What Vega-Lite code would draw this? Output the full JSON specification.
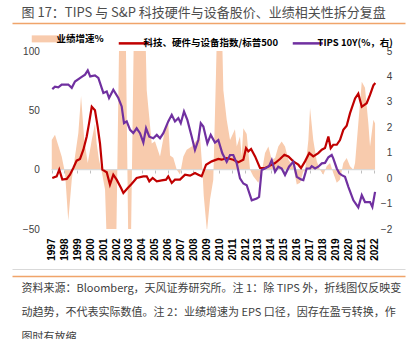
{
  "$schema": "https://vega.github.io/schema/vega-lite/v6.json",
  "width": 393,
  "height": 178,
  "autosize": {"type": "none"},
  "padding": {"left": 12, "top": 51, "right": 10, "bottom": 110},
  "background": "white",
  "config": {
    "view": {"stroke": null},
    "axis": {"grid": false, "labelFont": "Liberation Sans", "titleFont": "Noto Sans CJK SC"}
  },
  "datasets": {
    "eps": [
      {"t": 1997.02, "v": 25}, {"t": 1997.27, "v": 29.4}, {"t": 1997.79, "v": 11}, {"t": 1998.05, "v": -2.8},
      {"t": 1998.30, "v": -43}, {"t": 1998.57, "v": -8.4}, {"t": 1998.82, "v": 11}, {"t": 1999.08, "v": 31},
      {"t": 1999.29, "v": 62}, {"t": 1999.54, "v": 25}, {"t": 1999.81, "v": 5.6}, {"t": 2000.12, "v": 25},
      {"t": 2000.37, "v": 39}, {"t": 2000.50, "v": 22}, {"t": 2000.68, "v": 8.4}, {"t": 2000.89, "v": -1.4},
      {"t": 2001.15, "v": -16.8}, {"t": 2001.28, "v": -60}, {"t": 2002.02, "v": -60}, {"t": 2002.27, "v": 130},
      {"t": 2002.74, "v": 130}, {"t": 2002.95, "v": -60}, {"t": 2003.16, "v": -60}, {"t": 2003.40, "v": 130},
      {"t": 2004.25, "v": 130}, {"t": 2004.38, "v": 67}, {"t": 2004.50, "v": 53}, {"t": 2004.77, "v": 22},
      {"t": 2005.02, "v": 24}, {"t": 2005.41, "v": 11}, {"t": 2005.80, "v": 34}, {"t": 2006.05, "v": 39},
      {"t": 2006.19, "v": 12}, {"t": 2006.44, "v": 10}, {"t": 2006.71, "v": 0}, {"t": 2006.96, "v": -4},
      {"t": 2007.22, "v": 11}, {"t": 2007.48, "v": 16.8}, {"t": 2007.87, "v": 19.6}, {"t": 2008.26, "v": 25},
      {"t": 2008.51, "v": 28}, {"t": 2008.70, "v": 0}, {"t": 2008.80, "v": -22}, {"t": 2009.05, "v": -52},
      {"t": 2009.29, "v": -25}, {"t": 2009.54, "v": -8.4}, {"t": 2009.75, "v": 81}, {"t": 2009.85, "v": 130},
      {"t": 2010.19, "v": 130}, {"t": 2010.32, "v": 67}, {"t": 2010.58, "v": 42}, {"t": 2010.84, "v": 25},
      {"t": 2011.09, "v": 31}, {"t": 2011.22, "v": 34}, {"t": 2011.36, "v": 19.6}, {"t": 2011.61, "v": 28},
      {"t": 2011.74, "v": 11}, {"t": 2011.87, "v": 35}, {"t": 2012.13, "v": 30}, {"t": 2012.39, "v": 0},
      {"t": 2012.64, "v": -5.6}, {"t": 2013.03, "v": -11}, {"t": 2013.29, "v": -2.8}, {"t": 2013.55, "v": 14},
      {"t": 2013.81, "v": 19.6}, {"t": 2014.07, "v": 8.4}, {"t": 2014.33, "v": 9.8}, {"t": 2014.58, "v": 19.6},
      {"t": 2014.84, "v": 23.8}, {"t": 2015.10, "v": 19.6}, {"t": 2015.36, "v": 8.4}, {"t": 2015.74, "v": 2.8},
      {"t": 2016.01, "v": -12.6}, {"t": 2016.27, "v": -11}, {"t": 2016.52, "v": -1.4}, {"t": 2016.65, "v": -1.4},
      {"t": 2016.91, "v": 25}, {"t": 2017.04, "v": 52}, {"t": 2017.29, "v": 25}, {"t": 2017.56, "v": 7},
      {"t": 2017.81, "v": 0}, {"t": 2018.07, "v": -4.2}, {"t": 2018.33, "v": 2.8}, {"t": 2018.59, "v": 5.6},
      {"t": 2018.84, "v": -2.8}, {"t": 2019.11, "v": -11}, {"t": 2019.36, "v": -8.4}, {"t": 2019.62, "v": 5.6},
      {"t": 2019.88, "v": 9.8}, {"t": 2020.14, "v": 2.8}, {"t": 2020.40, "v": 0}, {"t": 2020.53, "v": 5.6},
      {"t": 2020.78, "v": 39}, {"t": 2021.05, "v": 74}, {"t": 2021.30, "v": 69}, {"t": 2021.56, "v": 39},
      {"t": 2021.69, "v": 19.6}, {"t": 2021.95, "v": 42}, {"t": 2022.08, "v": 39}
    ],
    "tech": [
      {"t": 1997.06, "v": -7}, {"t": 1997.40, "v": -5.6}, {"t": 1997.60, "v": 0}, {"t": 1997.84, "v": -8.4},
      {"t": 1998.18, "v": -7.8}, {"t": 1998.43, "v": -4.2}, {"t": 1998.69, "v": 1.4}, {"t": 1998.95, "v": 7.6},
      {"t": 1999.21, "v": 9}, {"t": 1999.47, "v": 16.8}, {"t": 1999.73, "v": 28}, {"t": 1999.91, "v": 39},
      {"t": 2000.12, "v": 53}, {"t": 2000.37, "v": 50}, {"t": 2000.58, "v": 36}, {"t": 2000.76, "v": 22},
      {"t": 2000.94, "v": 0}, {"t": 2001.28, "v": -2.2}, {"t": 2001.53, "v": -12.6}, {"t": 2001.79, "v": -4.2},
      {"t": 2002.05, "v": -8.4}, {"t": 2002.39, "v": -15.4}, {"t": 2002.57, "v": -19.6}, {"t": 2002.91, "v": -15.4},
      {"t": 2003.22, "v": -11.8}, {"t": 2003.60, "v": -7}, {"t": 2004.12, "v": -5.6}, {"t": 2004.38, "v": -5.6},
      {"t": 2004.58, "v": -9.8}, {"t": 2004.84, "v": -7}, {"t": 2005.16, "v": -9.8}, {"t": 2005.54, "v": -9},
      {"t": 2005.88, "v": -8.4}, {"t": 2006.05, "v": -5.6}, {"t": 2006.32, "v": -11.2}, {"t": 2006.57, "v": -8.4},
      {"t": 2006.96, "v": -8.4}, {"t": 2007.35, "v": -4.2}, {"t": 2007.74, "v": -5}, {"t": 2008.12, "v": -2.8},
      {"t": 2008.38, "v": -4.2}, {"t": 2008.64, "v": -5.6}, {"t": 2008.98, "v": 4.2}, {"t": 2009.42, "v": 7},
      {"t": 2009.93, "v": 9}, {"t": 2010.19, "v": 8.4}, {"t": 2010.58, "v": 9.8}, {"t": 2011.09, "v": 8.4},
      {"t": 2011.48, "v": 6.2}, {"t": 2011.87, "v": 8.4}, {"t": 2012.08, "v": 18.2}, {"t": 2012.26, "v": 15.4},
      {"t": 2012.47, "v": 17.4}, {"t": 2012.78, "v": 11.2}, {"t": 2013.16, "v": 1.4}, {"t": 2013.55, "v": 1.4},
      {"t": 2013.94, "v": 3.4}, {"t": 2014.33, "v": 5.6}, {"t": 2014.71, "v": 9}, {"t": 2015.05, "v": 12.6},
      {"t": 2015.36, "v": 11.2}, {"t": 2015.74, "v": 7}, {"t": 2016.13, "v": 4.2}, {"t": 2016.34, "v": 1.4},
      {"t": 2016.65, "v": 7}, {"t": 2016.98, "v": 14}, {"t": 2017.29, "v": 11.2}, {"t": 2017.68, "v": 14},
      {"t": 2017.95, "v": 16.8}, {"t": 2018.20, "v": 18.2}, {"t": 2018.46, "v": 28}, {"t": 2018.64, "v": 18.2},
      {"t": 2018.84, "v": 21}, {"t": 2019.11, "v": 21}, {"t": 2019.36, "v": 25}, {"t": 2019.62, "v": 33.6},
      {"t": 2019.88, "v": 37}, {"t": 2020.14, "v": 47.6}, {"t": 2020.53, "v": 60}, {"t": 2020.78, "v": 64},
      {"t": 2021.05, "v": 53}, {"t": 2021.43, "v": 56}, {"t": 2021.69, "v": 63}, {"t": 2021.95, "v": 71},
      {"t": 2022.10, "v": 73}
    ],
    "tips": [
      {"t": 1997.06, "v": 3.5}, {"t": 1997.27, "v": 3.6}, {"t": 1997.53, "v": 3.57}, {"t": 1997.79, "v": 3.68},
      {"t": 1998.30, "v": 3.68}, {"t": 1998.57, "v": 3.55}, {"t": 1998.82, "v": 3.8}, {"t": 1999.34, "v": 3.98},
      {"t": 1999.60, "v": 4.07}, {"t": 1999.81, "v": 4.24}, {"t": 2000.00, "v": 4.0}, {"t": 2000.37, "v": 4.04},
      {"t": 2000.63, "v": 3.94}, {"t": 2001.02, "v": 3.35}, {"t": 2001.28, "v": 3.41}, {"t": 2001.46, "v": 3.15},
      {"t": 2001.79, "v": 3.48}, {"t": 2002.18, "v": 3.15}, {"t": 2002.44, "v": 2.82}, {"t": 2002.62, "v": 2.16},
      {"t": 2002.83, "v": 2.23}, {"t": 2003.09, "v": 1.9}, {"t": 2003.34, "v": 1.77}, {"t": 2003.60, "v": 1.96},
      {"t": 2003.86, "v": 1.77}, {"t": 2004.12, "v": 1.40}, {"t": 2004.33, "v": 1.96}, {"t": 2004.58, "v": 1.63},
      {"t": 2004.89, "v": 1.57}, {"t": 2005.16, "v": 1.70}, {"t": 2005.41, "v": 1.57}, {"t": 2005.67, "v": 1.77},
      {"t": 2006.05, "v": 2.23}, {"t": 2006.32, "v": 2.49}, {"t": 2006.57, "v": 2.23}, {"t": 2006.83, "v": 2.36},
      {"t": 2007.02, "v": 2.16}, {"t": 2007.27, "v": 2.62}, {"t": 2007.53, "v": 2.29}, {"t": 2007.87, "v": 1.63},
      {"t": 2008.12, "v": 1.11}, {"t": 2008.38, "v": 1.50}, {"t": 2008.57, "v": 2.16}, {"t": 2008.77, "v": 2.03},
      {"t": 2009.08, "v": 1.37}, {"t": 2009.34, "v": 1.70}, {"t": 2009.67, "v": 1.40}, {"t": 2009.93, "v": 1.50},
      {"t": 2010.24, "v": 0.98}, {"t": 2010.58, "v": 0.64}, {"t": 2010.84, "v": 0.91}, {"t": 2011.09, "v": 0.91},
      {"t": 2011.36, "v": 0.58}, {"t": 2011.61, "v": -0.01}, {"t": 2011.87, "v": -0.21}, {"t": 2012.13, "v": -0.28},
      {"t": 2012.52, "v": -0.87}, {"t": 2012.91, "v": -0.80}, {"t": 2013.09, "v": -0.74}, {"t": 2013.29, "v": 0.32},
      {"t": 2013.55, "v": 0.38}, {"t": 2013.86, "v": 0.47}, {"t": 2014.07, "v": 0.71}, {"t": 2014.33, "v": 0.25},
      {"t": 2014.58, "v": 0.45}, {"t": 2014.84, "v": 0.38}, {"t": 2015.10, "v": 0.12}, {"t": 2015.41, "v": 0.45},
      {"t": 2015.74, "v": 0.64}, {"t": 2016.01, "v": 0.05}, {"t": 2016.34, "v": -0.05}, {"t": 2016.52, "v": -0.08},
      {"t": 2016.78, "v": 0.38}, {"t": 2017.04, "v": 0.38}, {"t": 2017.17, "v": 0.47}, {"t": 2017.43, "v": 0.38},
      {"t": 2017.68, "v": 0.45}, {"t": 2017.95, "v": 0.58}, {"t": 2018.20, "v": 0.60}, {"t": 2018.46, "v": 0.82},
      {"t": 2018.72, "v": 0.91}, {"t": 2018.84, "v": 0.78}, {"t": 2019.11, "v": 0.38}, {"t": 2019.31, "v": 0.19},
      {"t": 2019.50, "v": 0.12}, {"t": 2019.75, "v": 0.05}, {"t": 2020.01, "v": -0.34}, {"t": 2020.40, "v": -0.87},
      {"t": 2020.78, "v": -1.15}, {"t": 2021.05, "v": -0.67}, {"t": 2021.30, "v": -0.94}, {"t": 2021.69, "v": -0.94},
      {"t": 2021.87, "v": -1.13}, {"t": 2022.08, "v": -0.54}
    ]
  },
  "layer": [
    {
      "data": {"name": "eps"},
      "mark": {"type": "area", "clip": true},
      "encoding": {
        "x": {"field": "t", "type": "quantitative", "scale": {"domain": [1993.938, 2024.40], "nice": false, "zero": false},
          "axis": {"orient": "bottom", "values": [1997,1998,1999,2000,2001,2002,2003,2004,2005,2006,2007,2008,2009,2010,2011,2012,2013,2014,2015,2016,2017,2018,2019,2020,2021,2022],
            "format": "d", "labelAngle": 270, "labelFontWeight": "bold", "labelFontSize": 10, "labelColor": "#000000", "labelPadding": 9,
            "domain": false, "ticks": false, "title": null, "labelFlush": false, "labelOverlap": false}},
        "y": {"field": "v", "type": "quantitative", "scale": {"domain": [-50, 100], "nice": false},
          "axis": {"orient": "left", "values": [-50, 0, 50, 100], "offset": -27.3, "labelPadding": 0, "domain": false, "ticks": false, "title": null, "labelFontSize": 10, "labelColor": "#404040"}},
        "color": {"datum": "业绩增速%",
          "scale": {"domain": ["业绩增速%", "科技、硬件与设备指数/标普500", "TIPS 10Y(%，右)"], "range": ["#F8CBAD", "#C00000", "#7030A0"]},
          "legend": {"orient": "none", "legendX": 30, "legendY": -17, "direction": "horizontal", "title": null,
            "symbolType": "stroke", "symbolSize": 900, "symbolStrokeWidth": 2.5, "labelOffset": 5, "columnPadding": 9,
            "labelFont": "Noto Sans CJK SC", "labelFontSize": 9.5, "labelFontWeight": "bold", "labelColor": "#000000",
            "encode": {"symbols": {"update": {"stroke": {"scale": "color", "field": "value"}, "fill": {"value": "transparent"},
              "strokeWidth": {"signal": "datum.value === '业绩增速%' ? 7 : 2.5"}}}}}}
      }
    },
    {
      "data": {"values": [{}]},
      "mark": {"type": "rule", "color": "#D9D9D9", "strokeWidth": 1.3},
      "encoding": {
        "x": {"datum": 1997, "type": "quantitative", "scale": {"domain": [1993.938, 2024.40], "nice": false, "zero": false},
          "axis": {"orient": "bottom", "offset": -206, "domain": true, "domainColor": "#F0A46A", "domainWidth": 1.5, "labels": false, "ticks": false,
            "title": "图 17：TIPS 与 S&P 科技硬件与设备股价、业绩相关性拆分复盘", "titleX": 9, "titleY": -17, "titleAlign": "left", "titleAnchor": "start",
            "titleBaseline": "top", "titleFontSize": 13, "titleFontWeight": "normal", "titleColor": "#4D4D4D", "titleAngle": 0}},
        "x2": {"datum": 2022},
        "y": {"datum": 0, "type": "quantitative", "scale": {"domain": [-50, 100], "nice": false}, "axis": null}
      }
    },
    {
      "data": {"name": "tech"},
      "mark": {"type": "line", "strokeWidth": 2.2, "clip": true},
      "encoding": {
        "x": {"field": "t", "type": "quantitative", "scale": {"domain": [1993.938, 2024.40], "nice": false, "zero": false},
          "axis": {"orient": "bottom", "offset": -59, "values": [1997,1998,1999,2000,2001,2002,2003,2004,2005,2006,2007,2008,2009,2010,2011,2012,2013,2014,2015,2016,2017,2018,2019,2020,2021,2022],
            "domain": false, "labels": false, "ticks": true, "tickSize": 3, "tickColor": "#BFBFBF", "title": null}},
        "y": {"field": "v", "type": "quantitative", "scale": {"domain": [-50, 100], "nice": false}, "axis": null},
        "color": {"datum": "科技、硬件与设备指数/标普500",
          "scale": {"domain": ["业绩增速%", "科技、硬件与设备指数/标普500", "TIPS 10Y(%，右)"], "range": ["#F8CBAD", "#C00000", "#7030A0"]}}
      }
    },
    {
      "data": {"name": "tips"},
      "mark": {"type": "line", "strokeWidth": 2.2, "clip": true},
      "encoding": {
        "x": {"field": "t", "type": "quantitative", "scale": {"domain": [1993.938, 2024.40], "nice": false, "zero": false},
          "axis": {"orient": "bottom", "offset": 40, "domain": true, "domainColor": "#D9D9D9", "domainWidth": 1, "labels": false, "ticks": false, "title": null}},
        "y": {"field": "v", "type": "quantitative", "scale": {"domain": [-2, 5], "nice": false},
          "axis": {"orient": "right", "values": [-2, -1, 0, 1, 2, 3, 4, 5], "offset": -13.3, "labelAlign": "right", "labelPadding": 0, "domain": false, "ticks": false, "title": null, "labelFontSize": 10, "labelColor": "#404040"}},
        "color": {"datum": "TIPS 10Y(%，右)",
          "scale": {"domain": ["业绩增速%", "科技、硬件与设备指数/标普500", "TIPS 10Y(%，右)"], "range": ["#F8CBAD", "#C00000", "#7030A0"]}}
      }
    },
    {
      "data": {"values": [{}]},
      "mark": {"type": "rule", "strokeOpacity": 0},
      "encoding": {
        "x": {"datum": 2000, "type": "quantitative", "scale": {"domain": [1993.938, 2024.40], "nice": false, "zero": false},
          "axis": {"orient": "bottom", "offset": 47, "domain": true, "domainColor": "#F0A46A", "domainWidth": 1.5, "labels": false, "ticks": false,
            "title": ["资料来源：Bloomberg，天风证券研究所。注 1：除 TIPS 外，折线图仅反映变", "动趋势，不代表实际数值。注 2：业绩增速为 EPS 口径，因存在盈亏转换，作", "图时有放缩"],
            "titleX": 9, "titleY": 6, "titleAlign": "left", "titleAnchor": "start", "titleBaseline": "top", "titleLineHeight": 24.5,
            "titleFontSize": 11, "titleFontWeight": "normal", "titleColor": "#404040", "titleAngle": 0}},
        "y": {"datum": 0, "type": "quantitative", "scale": {"domain": [-50, 100], "nice": false}, "axis": null}
      }
    }
  ],
  "resolve": {"scale": {"y": "independent"}, "axis": {"x": "independent", "y": "independent"}}
}
